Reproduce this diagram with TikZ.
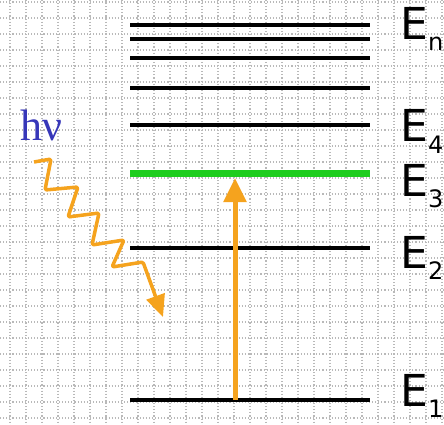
\documentclass[tikz,border=0pt]{standalone}
\usepackage{fontspec}
\setmainfont{DejaVu Sans}
\newfontfamily\photonfont{Liberation Serif}
\usetikzlibrary{arrows.meta}

\definecolor{pumporange}{RGB}{245,163,30}
\definecolor{hnublue}{RGB}{55,55,185}
\definecolor{levelgreen}{RGB}{30,205,30}

% level label: big E with lowered index
\newcommand{\lvlE}[1]{{\fontsize{44}{44}\selectfont E}\raisebox{-11pt}{\fontsize{24}{24}\selectfont #1}}

\begin{document}
\begin{tikzpicture}[
  x=1pt, y=-1pt,
  gridline/.style={gray!55, line width=1.1pt, dash pattern=on 1.1pt off 2pt},
  level/.style={line width=3.5pt},
  upper/.style={levelgreen, line width=7pt},
  pump/.style={pumporange, line width=5pt, -{Triangle[length=24pt,width=22pt]}},
  photon/.style={pumporange, line width=3.5pt, line join=round, rounded corners=1.5pt,
                 -{Triangle[length=22pt,width=19pt]}},
  elbl/.style={anchor=base west, inner sep=0pt}
]
\useasboundingbox (0,0) rectangle (444,425);

% ---- dotted background grid ----
\foreach \gx in {10,26,...,442}
  \draw[gridline] (\gx,0) -- (\gx,425);
\foreach \gy in {2,18,...,418}
  \draw[gridline] (0,\gy) -- (444,\gy);

% ---- energy levels ----
\foreach \name/\y in {n1/25,n2/39,n3/58,n4/88,4/125,2/248,1/400} {
  \coordinate (L\name w) at (130,\y);
  \coordinate (L\name e) at (370,\y);
  \draw[level] (L\name w) -- (L\name e);
}

% metastable level
\coordinate (L3w) at (130,173);
\coordinate (L3e) at (370,173);
\draw[upper] (L3w) -- (L3e);

% ---- level labels ----
\node[elbl] (lblEn) at (400,40)  {\lvlE{n}};
\node[elbl] (lblE4) at (400,142) {\lvlE{4}};
\node[elbl] (lblE3) at (400,196) {\lvlE{3}};
\node[elbl] (lblE2) at (400,268) {\lvlE{2}};
\node[elbl] (lblE1) at (400,406) {\lvlE{1}};

% ---- pumping E1 -> E3 ----
\coordinate (pump base) at (235,400);
\coordinate (pump tip) at (235,178);
\draw[pump] (pump base) -- (pump tip);

% ---- incoming photon ----
\node[anchor=base west, inner sep=0pt, text=hnublue,
      font=\photonfont\fontsize{44}{44}\selectfont] (hnu) at (20,140) {hν};

\coordinate (photon start) at (34,162);
\coordinate (photon end) at (163,317);
\draw[photon] (photon start) -- (51,159) -- (45,190) -- (78,187) -- (68,217)
  -- (99,213) -- (92,245) -- (124,240) -- (112,267) -- (143,262) -- (photon end);

\end{tikzpicture}
\end{document}
